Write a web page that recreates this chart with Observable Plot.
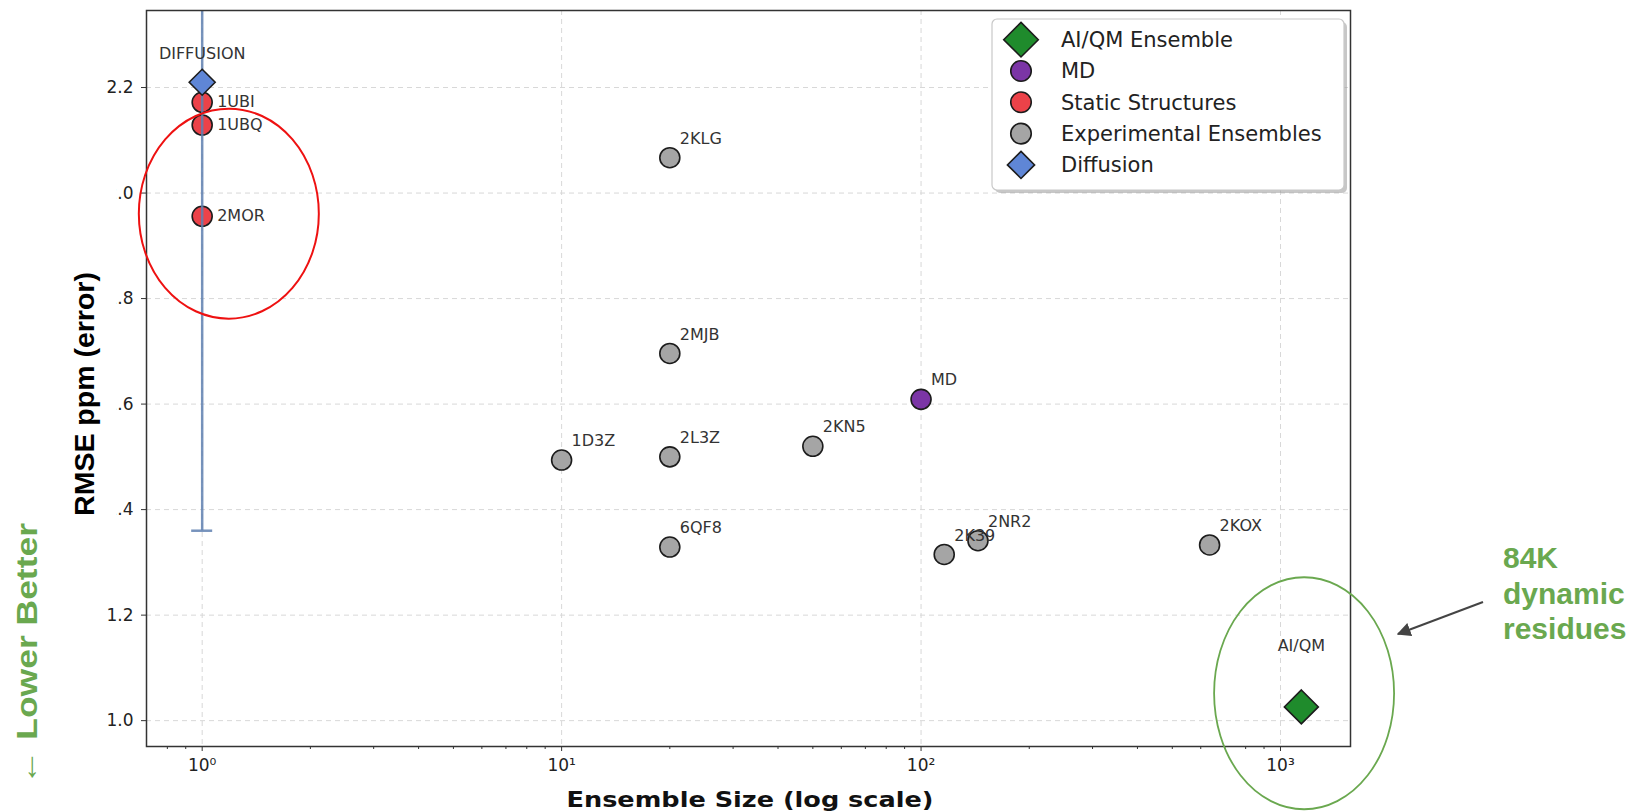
<!DOCTYPE html>
<html>
<head>
<meta charset="utf-8">
<script src="https://cdn.jsdelivr.net/npm/d3@7"></script>
<script src="https://cdn.jsdelivr.net/npm/@observablehq/plot@0.6"></script>
<style>
html, body { margin: 0; padding: 0; background: #fff; overflow: hidden; }
#chart { position: relative; width: 1637px; height: 812px; }
</style>
</head>
<body>
<div id="chart"></div>
<script>
// ---------- data ----------
const names = ["DIFFUSION", "1UBI", "1UBQ", "2MOR", "2KLG", "2MJB", "MD", "1D3Z", "2L3Z", "2KN5", "6QF8", "2K39", "2NR2", "2KOX", "AI/QM"];
const ensembleSizes = [1, 1, 1, 1, 20, 20, 100, 10, 20, 50, 20, 116, 144, 635, 1143];
const rmseValues = [2.21, 2.172, 2.129, 1.956, 2.067, 1.696, 1.609, 1.494, 1.500, 1.520, 1.329, 1.315, 1.341, 1.333, 1.026];
const groups = ["Diffusion", "Static Structures", "Static Structures", "Static Structures",
  "Experimental Ensembles", "Experimental Ensembles", "MD", "Experimental Ensembles",
  "Experimental Ensembles", "Experimental Ensembles", "Experimental Ensembles",
  "Experimental Ensembles", "Experimental Ensembles", "Experimental Ensembles", "AI/QM Ensemble"];
const diffusionError = [0.85];

const legendLabels = ["AI/QM Ensemble", "MD", "Static Structures", "Experimental Ensembles", "Diffusion"];
const legendColors = ["#1f8b2c", "#7b35a6", "#ec4249", "#a5a5a5", "#5f86d6"];
const legendShapes = ["diamond", "circle", "circle", "circle", "diamond"];

const xTicks = [1, 10, 100, 1000];
const xTickLabels = ["10\u2070", "10\u00b9", "10\u00b2", "10\u00b3"];
const xMinorTicks = [0.8, 0.9, 2, 3, 4, 5, 6, 7, 8, 9, 20, 30, 40, 50, 60, 70, 80, 90, 200, 300, 400, 500, 600, 700, 800, 900];
const yTicks = [1.0, 1.2, 1.4, 1.6, 1.8, 2.0, 2.2];

const xLabel = "Ensemble Size (log scale)";
const yLabel = "RMSE ppm (error)";
const sideNote = "\u2190 Lower Better";
const calloutLines = ["84K", "dynamic", "residues"];

// callout ellipses: centre in data units
const staticCallout = { x: 1.19, y: 1.96 };
const aiqmCallout = { x: 1167, y: 1.051 };

// ---------- build ----------
const rows = names.map((n, i) => ({ name: n, size: ensembleSizes[i], rmse: rmseValues[i], group: groups[i] }));
const colorOf = g => legendColors[legendLabels.indexOf(g)];
const of = g => rows.filter(d => d.group === g);
const err = diffusionError[0];

const dotStroke = "#1c1c1c";
const labelStyle = { fontSize: 16, fill: "#333", fontFamily: "DejaVu Sans" };

const plot = Plot.plot({
  width: 1637,
  height: 812,
  marginLeft: 146,
  marginRight: 287,
  marginTop: 10,
  marginBottom: 66,
  style: { fontFamily: "DejaVu Sans", fontSize: "17px", color: "#222", background: "#fff", overflow: "visible" },
  x: { type: "log", domain: [0.70, 1566] },
  y: { domain: [0.951, 2.346] },
  marks: [
    Plot.gridX({ ticks: xTicks, stroke: "#d8d8d8", strokeOpacity: 1, strokeDasharray: "5,4" }),
    Plot.gridY({ ticks: yTicks, stroke: "#d8d8d8", strokeOpacity: 1, strokeDasharray: "5,4" }),
    Plot.axisX({ ticks: xMinorTicks, tickSize: 3, tickFormat: () => "", label: null, stroke: "#333" }),
    Plot.axisX({ ticks: xTicks, tickSize: 5, tickPadding: 7, tickFormat: d => xTickLabels[xTicks.indexOf(d)], label: null, stroke: "#333", fontSize: 17 }),
    Plot.axisY({ ticks: yTicks, tickSize: 5, tickPadding: 8, tickFormat: d => d.toFixed(1), label: null, stroke: "#333", fontSize: 17 }),
    Plot.dot(of("Experimental Ensembles"), { x: "size", y: "rmse", r: 10, fill: colorOf("Experimental Ensembles"), stroke: dotStroke, strokeWidth: 1.6 }),
    Plot.dot(of("MD"), { x: "size", y: "rmse", r: 10, fill: colorOf("MD"), stroke: dotStroke, strokeWidth: 1.6 }),
    Plot.dot(of("Static Structures"), { x: "size", y: "rmse", r: 10, fill: colorOf("Static Structures"), stroke: dotStroke, strokeWidth: 1.6 }),
    Plot.ruleX(of("Diffusion"), { x: "size", y1: d => d.rmse - err, y2: d => d.rmse + err, stroke: "#5f80b0", strokeOpacity: 0.85, strokeWidth: 2.5, clip: true }),
    Plot.ruleY(of("Diffusion"), { y: d => d.rmse - err, x1: "size", x2: "size", insetLeft: -10.5, insetRight: -10.5, stroke: "#5f80b0", strokeOpacity: 0.85, strokeWidth: 2.5 }),
    Plot.dot(of("Diffusion"), { x: "size", y: "rmse", r: 11.7, symbol: "diamond2", fill: colorOf("Diffusion"), stroke: dotStroke, strokeWidth: 1.6 }),
    Plot.dot(of("AI/QM Ensemble"), { x: "size", y: "rmse", r: 15.3, symbol: "diamond2", fill: colorOf("AI/QM Ensemble"), stroke: dotStroke, strokeWidth: 1.6 }),
    Plot.text(rows.filter(d => d.group === "Experimental Ensembles" || d.group === "MD"), { x: "size", y: "rmse", text: "name", dx: 10, dy: -19, textAnchor: "start", ...labelStyle }),
    Plot.text(of("Static Structures"), { x: "size", y: "rmse", text: "name", dx: 15, dy: 0, textAnchor: "start", ...labelStyle }),
    Plot.text(of("Diffusion"), { x: "size", y: "rmse", text: "name", dy: -28, textAnchor: "middle", ...labelStyle }),
    Plot.text(of("AI/QM Ensemble"), { x: "size", y: "rmse", text: "name", dy: -61, textAnchor: "middle", ...labelStyle }),
    Plot.frame({ stroke: "#333", strokeWidth: 1.5 })
  ]
});

document.getElementById("chart").appendChild(plot);

// ---------- annotations ----------
const svg = d3.select(plot);
const xs = plot.scale("x"), ys = plot.scale("y");

svg.append("ellipse")
  .attr("cx", xs.apply(staticCallout.x)).attr("cy", ys.apply(staticCallout.y))
  .attr("rx", 90).attr("ry", 105)
  .attr("fill", "none").attr("stroke", "#ee1111").attr("stroke-width", 2);
svg.append("ellipse")
  .attr("cx", xs.apply(aiqmCallout.x)).attr("cy", ys.apply(aiqmCallout.y))
  .attr("rx", 90).attr("ry", 116)
  .attr("fill", "none").attr("stroke", "#6aa84f").attr("stroke-width", 1.8);

// legend
const lg = svg.append("g").attr("text-anchor", "start");
lg.append("rect").attr("x", 995).attr("y", 22).attr("width", 352).attr("height", 171).attr("rx", 5)
  .attr("fill", "#999").attr("opacity", 0.55);
lg.append("rect").attr("x", 992).attr("y", 19).attr("width", 352).attr("height", 171).attr("rx", 5)
  .attr("fill", "#fff").attr("stroke", "#c8c8c8").attr("stroke-width", 1.2);
legendLabels.forEach((lab, i) => {
  const cy = 39.7 + i * 31.3;
  const isDiamond = legendShapes[i] === "diamond";
  const size = isDiamond ? (i === 0 ? 760 : 470) : 330;
  lg.append("path")
    .attr("d", d3.symbol(isDiamond ? d3.symbolDiamond2 : d3.symbolCircle, size)())
    .attr("transform", `translate(1021,${cy})`)
    .attr("fill", legendColors[i]).attr("stroke", dotStroke).attr("stroke-width", 1.6);
  lg.append("text").attr("x", 1061).attr("y", cy).attr("dy", "0.35em").attr("text-anchor", "start")
    .attr("font-family", "DejaVu Sans").attr("font-size", 21).attr("fill", "#222").text(lab);
});

// x axis title
svg.append("text").attr("x", 750).attr("y", 807).attr("text-anchor", "middle")
  .attr("font-family", "DejaVu Sans").attr("font-weight", "bold").attr("font-size", 22)
  .attr("fill", "#111").attr("textLength", 367).attr("lengthAdjust", "spacingAndGlyphs").text(xLabel);

// y axis title on a white patch
svg.append("rect").attr("x", 58).attr("y", 178).attr("width", 58).attr("height", 342).attr("fill", "#fff");
svg.append("text").attr("transform", "translate(94,394) rotate(-90)").attr("text-anchor", "middle")
  .attr("font-family", "Liberation Sans, Arial, sans-serif").attr("font-weight", "bold").attr("font-size", 28.5)
  .attr("fill", "#000").text(yLabel);

// lower better note
svg.append("text").attr("transform", "translate(37,654) rotate(-90)").attr("text-anchor", "middle")
  .attr("font-family", "Liberation Sans, Arial, sans-serif").attr("font-weight", "bold").attr("font-size", 30)
  .attr("textLength", 262).attr("lengthAdjust", "spacingAndGlyphs")
  .attr("fill", "#6aa84f").text(sideNote);

// 84K dynamic residues note
calloutLines.forEach((t, i) => {
  svg.append("text").attr("x", 1503).attr("y", 568 + i * 35.5).attr("text-anchor", "start")
    .attr("font-family", "Liberation Sans, Arial, sans-serif").attr("font-weight", "bold").attr("font-size", 30)
    .attr("fill", "#6aa84f").text(t);
});

// arrow
const defs = svg.append("defs");
defs.append("marker").attr("id", "ah").attr("viewBox", "0 0 10 10").attr("refX", 9).attr("refY", 5)
  .attr("markerWidth", 7).attr("markerHeight", 7).attr("orient", "auto-start-reverse")
  .append("path").attr("d", "M0,0 L10,5 L0,10 z").attr("fill", "#444");
svg.append("line").attr("x1", 1483).attr("y1", 602).attr("x2", 1398).attr("y2", 634)
  .attr("stroke", "#444").attr("stroke-width", 2).attr("marker-end", "url(#ah)");
</script>
</body>
</html>
